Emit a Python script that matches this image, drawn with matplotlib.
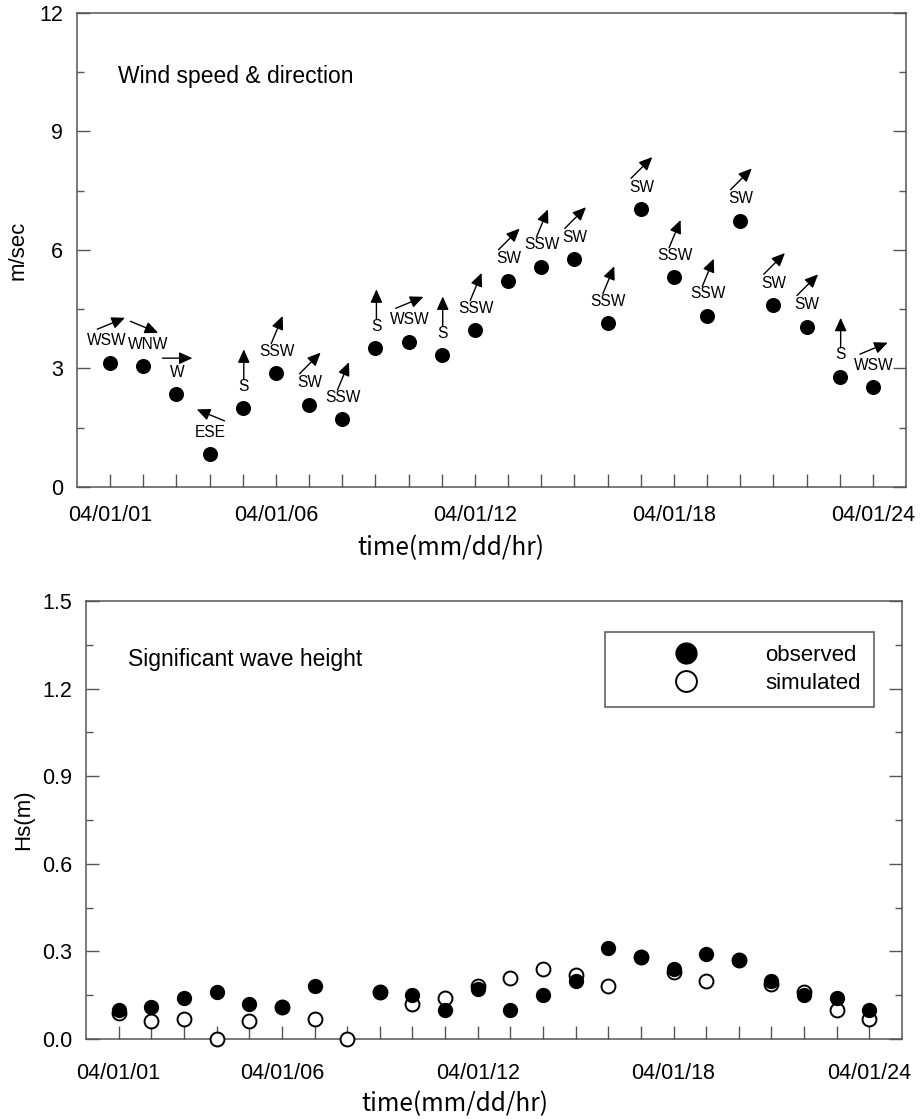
import numpy as np
import matplotlib
matplotlib.use("Agg")
import matplotlib.pyplot as plt
from matplotlib.ticker import MultipleLocator
from matplotlib.transforms import ScaledTranslation

plt.rcParams["font.family"] = ["Liberation Sans", "DejaVu Sans"]

# hour of day 04/01/01 .. 04/01/24
hours = np.arange(1, 25)

wind_speed = [3.15, 3.06, 2.35, 0.83, 1.99, 2.88, 2.08, 1.71, 3.51, 3.68, 3.33, 3.97,
              5.22, 5.58, 5.76, 4.14, 7.03, 5.31, 4.33, 6.74, 4.60, 4.06, 2.79, 2.52]
wind_dir = ["WSW", "WNW", "W", "ESE", "S", "SSW", "SW", "SSW", "S", "WSW", "S", "SSW",
            "SW", "SSW", "SW", "SSW", "SW", "SSW", "SSW", "SW", "SW", "SW", "S", "WSW"]

hs_obs = [0.10, 0.11, 0.14, 0.16, 0.12, 0.11, 0.18, np.nan, 0.16, 0.15, 0.10, 0.17,
          0.10, 0.15, 0.20, 0.31, 0.28, 0.24, 0.29, 0.27, 0.20, 0.15, 0.14, 0.10]
hs_sim = [0.09, 0.06, 0.07, 0.00, 0.06, 0.11, 0.07, 0.00, 0.16, 0.12, 0.14, 0.18,
          0.21, 0.24, 0.22, 0.18, 0.28, 0.23, 0.20, 0.27, 0.19, 0.16, 0.10, 0.07]

tick_labels = {1: "04/01/01", 6: "04/01/06", 12: "04/01/12", 18: "04/01/18", 24: "04/01/24"}

# compass point the wind comes from -> degrees
compass = {"N": 0, "NNE": 22.5, "NE": 45, "ENE": 67.5, "E": 90, "ESE": 112.5, "SE": 135,
           "SSE": 157.5, "S": 180, "SSW": 202.5, "SW": 225, "WSW": 247.5, "W": 270,
           "WNW": 292.5, "NW": 315, "NNW": 337.5}

SPINE = "#555555"

fig = plt.figure(figsize=(9.24, 11.19), dpi=100)
ax1 = fig.add_axes([0.0833, 0.5648, 0.8972, 0.4236])
ax2 = fig.add_axes([0.0931, 0.0715, 0.8831, 0.3914])


def style_axes(ax, label_pad):
    ax.set_xlim(0, 25)
    ax.set_xticks(hours)
    ax.set_xticklabels([tick_labels.get(h, "") for h in hours])
    for s in ax.spines.values():
        s.set_color(SPINE)
        s.set_linewidth(1.1)
    ax.tick_params(axis="y", which="both", direction="in", left=True, right=True,
                   colors=SPINE, labelcolor="black", labelsize=15.5, pad=10)
    ax.tick_params(axis="y", which="major", length=9.5, width=1)
    ax.tick_params(axis="y", which="minor", length=5, width=1)
    ax.tick_params(axis="x", which="major", direction="in", length=9.5, width=1,
                   top=False, colors=SPINE, labelcolor="black", labelsize=15.5, pad=label_pad)


def px(ax, dx, dy):
    return ax.transData + ScaledTranslation(dx / 100, dy / 100, fig.dpi_scale_trans)


# ---- wind speed & direction ----
ax1.plot(hours, wind_speed, "o", color="black", ms=9.8, zorder=3)
style_axes(ax1, 13)
ax1.set_ylim(0, 12)
ax1.yaxis.set_major_locator(MultipleLocator(3))
ax1.yaxis.set_minor_locator(MultipleLocator(1.5))
ax1.yaxis.set_major_formatter(plt.FormatStrFormatter("%d"))

# push apart neighbouring long labels that sit at almost the same height
px_per_ms = 0.4236 * 1119 / 12
nudge = np.zeros(len(hours))
for i in range(len(hours) - 1):
    close = abs(wind_speed[i + 1] - wind_speed[i]) * px_per_ms < 12
    if close and len(wind_dir[i]) + len(wind_dir[i + 1]) >= 6:
        nudge[i] -= 4
        nudge[i + 1] += 4

L = 30  # arrow length in px
for h, v, d, n in zip(hours, wind_speed, wind_dir, nudge):
    toward = np.deg2rad(compass[d] + 180)
    ux, uy = np.sin(toward), np.cos(toward)
    cx, cy = 1, 36 + 8 * abs(uy)
    ax1.annotate("", xy=(h, v), xycoords=px(ax1, cx + ux * L / 2, cy + uy * L / 2),
                 xytext=(h, v), textcoords=px(ax1, cx - ux * L / 2, cy - uy * L / 2),
                 arrowprops=dict(arrowstyle="-|>,head_length=0.8,head_width=0.36",
                                 mutation_scale=10, color="black", lw=1,
                                 shrinkA=0, shrinkB=0))
    ax1.annotate(d, xy=(h, v), xytext=((0.7 + n) * 0.72, 22 * 0.72),
                 textcoords="offset points", ha="center", va="center", fontsize=11.2)

ax1.text(1.24, 10.39, "Wind speed & direction", fontsize=16.5, va="center", ha="left")
ax1.set_ylabel("m/sec", fontsize=16, va="center", ha="center")
ax1.yaxis.set_label_coords(-0.071, 0.5)
ax1.set_xlabel("time(mm/dd/hr)", fontsize=17.5, va="center", ha="center",
               family=["Noto Sans CJK KR", "DejaVu Sans"])
ax1.xaxis.set_label_coords(0.451, -0.129)

# ---- significant wave height ----
ax2.plot(hours, hs_sim, "o", mfc="white", mec="black", mew=1.4, ms=10, zorder=3,
         label="simulated", clip_on=False)
ax2.plot(hours, hs_obs, "o", color="black", ms=10, zorder=4, label="observed",
         clip_on=False)
style_axes(ax2, 17)
ax2.set_ylim(0, 1.5)
ax2.yaxis.set_major_locator(MultipleLocator(0.3))
ax2.yaxis.set_minor_locator(MultipleLocator(0.15))
ax2.yaxis.set_major_formatter(plt.FormatStrFormatter("%.1f"))

handles, labels = ax2.get_legend_handles_labels()
leg = ax2.legend(handles[::-1], labels[::-1], loc="upper left", bbox_to_anchor=(0.636, 0.93),
                 borderaxespad=0, fancybox=False, edgecolor=SPINE, framealpha=1,
                 fontsize=16, markerscale=1.5, handlelength=6.1, handletextpad=0.5,
                 borderpad=0.6, labelspacing=0.3)
leg.get_frame().set_linewidth(1.1)

ax2.text(1.29, 1.30, "Significant wave height", fontsize=16.5, va="center", ha="left")
ax2.set_ylabel("Hs(m)", fontsize=16, va="center", ha="center")
ax2.yaxis.set_label_coords(-0.077, 0.5)
ax2.set_xlabel("time(mm/dd/hr)", fontsize=17.5, va="center", ha="center",
               family=["Noto Sans CJK KR", "DejaVu Sans"])
ax2.xaxis.set_label_coords(0.452, -0.148)

fig.savefig("out.png", dpi=100)
